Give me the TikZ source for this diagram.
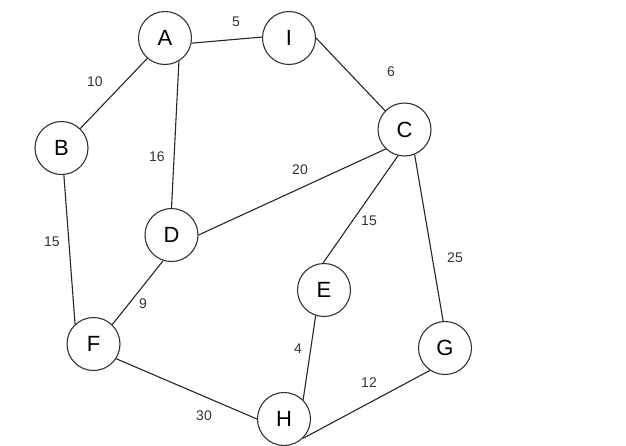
\documentclass[tikz,border=0pt]{standalone}
\usepackage{fontspec}
\setmainfont{Liberation Sans}
\begin{document}
\begin{tikzpicture}[x=1pt,y=-1pt,
  vert/.style={circle,draw=black!80,line width=1.1pt,minimum size=53pt,inner sep=0pt,fill=white,font=\fontsize{22}{22}\selectfont},
  edge/.style={draw=black!85,line width=1.1pt},
  wt/.style={font=\fontsize{14}{14}\selectfont,text=black!80}]
\useasboundingbox (0,0) rectangle (626,445);
\node[vert] (A) at (165,38) {A};
\node[vert] (I) at (289,38) {I};
\node[vert] (C) at (404.5,129.5) {C};
\node[vert] (B) at (61.5,148) {B};
\node[vert] (D) at (171.5,235) {D};
\node[vert] (E) at (324,290) {E};
\node[vert] (F) at (93.5,344) {F};
\node[vert] (G) at (445,348) {G};
\node[vert] (H) at (284,419) {H};
\draw[edge] (A.-11) -- (I.178);
\draw[edge] (I.0) -- (C.136);
\draw[edge] (A.-131) -- (B.46);
\draw[edge] (A.-59) -- (D.90);
\draw[edge] (B.-85) -- (F.133);
\draw[edge] (D.0) -- (C.-134);
\draw[edge] (D.-108) -- (F.46);
\draw[edge] (C.-104) -- (E.92);
\draw[edge] (C.-68) -- (G.94);
\draw[edge] (E.-108) -- (H.45);
\draw[edge] (F.-33) -- (H.180);
\draw[edge] (H.-46) -- (G.-124);
\node[wt] (w1) at (236,22) {5};
\node[wt] (w2) at (391,72) {6};
\node[wt] (w3) at (95,82) {10};
\node[wt] (w4) at (157,157) {16};
\node[wt] (w5) at (300,170) {20};
\node[wt] (w6) at (369,221) {15};
\node[wt] (w7) at (455,258) {25};
\node[wt] (w8) at (52,242) {15};
\node[wt] (w9) at (143,304) {9};
\node[wt] (w10) at (298,349) {4};
\node[wt] (w11) at (369,383) {12};
\node[wt] (w12) at (204,416) {30};
\end{tikzpicture}
\end{document}
